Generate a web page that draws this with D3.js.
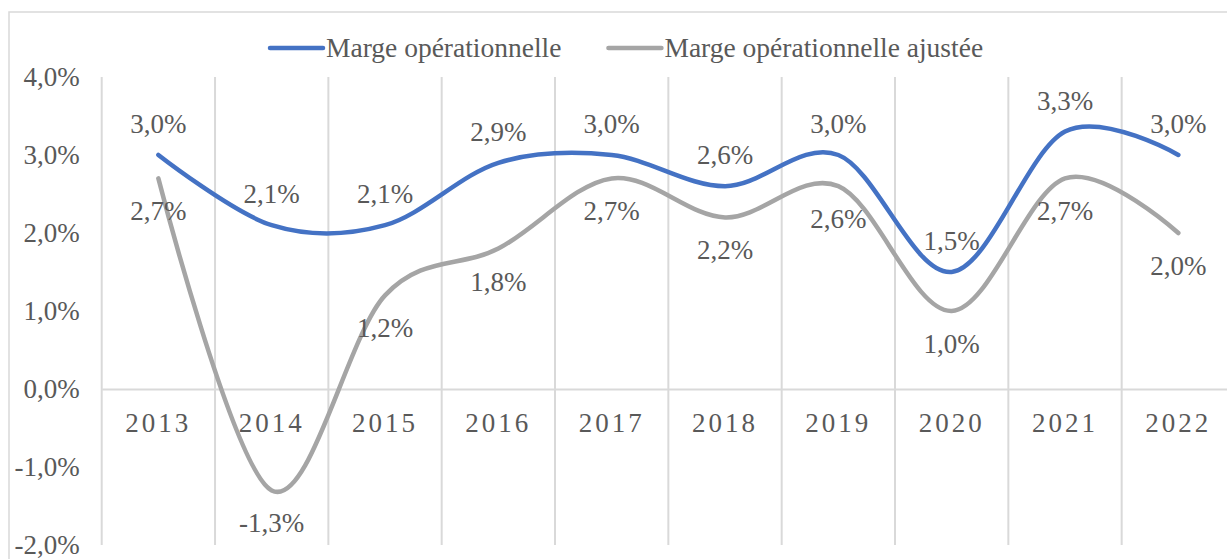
<!DOCTYPE html>
<html>
<head>
<meta charset="utf-8">
<script src="https://cdn.jsdelivr.net/npm/d3@7"></script>
<style>
  body { margin: 0; background: #fff; }
  text { font-family: 'Liberation Serif', 'Times New Roman', serif; fill: #595959; }
</style>
</head>
<body>
<div class="canvas"></div>
<script>
// data
const years = ['2013', '2014', '2015', '2016', '2017', '2018', '2019', '2020', '2021', '2022'];
const margeOp = [3.0, 2.1, 2.1, 2.9, 3.0, 2.6, 3.0, 1.5, 3.3, 3.0];
const margeAjustee = [2.7, -1.3, 1.2, 1.8, 2.7, 2.2, 2.6, 1.0, 2.7, 2.0];
const yTicks = [-2, -1, 0, 1, 2, 3, 4];
const seriesNames = ['Marge opérationnelle', 'Marge opérationnelle ajustée'];
const seriesColors = ['#4472C4', '#A5A5A5'];

const dims = {width: 1227, height: 559};
const plot = {left: 101.7, right: 1235, top: 77, bottom: 545};
const fontSize = 27;

const svg = d3.select('.canvas')
    .append('svg').attr('width', dims.width).attr('height', dims.height);

// outer frame (right/bottom fall outside the picture)
svg.append('rect')
    .attr('x', 9).attr('y', 12)
    .attr('width', 1260).attr('height', 600)
    .attr('fill', 'none').attr('stroke', '#d9d9d9').attr('stroke-width', 1.5);

const x = d3.scaleBand().domain(years).range([plot.left, plot.right]).padding(0);
const y = d3.scaleLinear().domain([-2, 4]).range([plot.bottom, plot.top]);

const fmt = v => d3.format('.1f')(v).replace('.', ',').replace('−', '-') + '%';

// vertical grid at category boundaries
const bounds = years.map(d => x(d)).concat([x(years[years.length - 1]) + x.bandwidth()]);
svg.append('g').selectAll('line')
    .data(bounds)
    .enter().append('line')
        .attr('x1', d => d).attr('x2', d => d)
        .attr('y1', plot.top).attr('y2', plot.bottom)
        .attr('stroke', '#d9d9d9').attr('stroke-width', 2);

// y axis labels
const yAxis = d3.axisLeft(y).tickValues(yTicks).tickFormat(fmt).tickSize(0).tickPadding(22);
const gy = svg.append('g').attr('transform', `translate(${plot.left},0)`).call(yAxis);
gy.select('.domain').remove();
gy.selectAll('text').attr('font-size', fontSize).style('font-family', null);

// category axis on the zero line
const xAxis = d3.axisBottom(x).tickSize(0).tickPadding(24);
const gx = svg.append('g').attr('transform', `translate(0,${y(0)})`).call(xAxis);
gx.select('.domain').attr('stroke', '#d9d9d9').attr('stroke-width', 2);
gx.selectAll('text').attr('font-size', fontSize).attr('letter-spacing', 3).style('font-family', null);

// smoothed lines, like the spreadsheet's smooth option
const line = d3.line()
    .x((d, i) => x(years[i]) + x.bandwidth() / 2)
    .y(d => y(d))
    .curve(d3.curveCardinal.tension(0));

const series = [margeOp, margeAjustee];
svg.append('g').selectAll('path')
    .data(series)
    .enter().append('path')
        .attr('d', d => line(d))
        .attr('fill', 'none')
        .attr('stroke', (d, i) => seriesColors[i])
        .attr('stroke-width', 4.5)
        .attr('stroke-linecap', 'round');

// data labels: first series above, second below
const labelOffset = [-22, 42];
series.forEach((vals, s) => {
    svg.append('g').selectAll('text')
        .data(vals)
        .enter().append('text')
            .attr('x', (d, i) => x(years[i]) + x.bandwidth() / 2)
            .attr('y', d => y(d) + labelOffset[s])
            .attr('text-anchor', 'middle')
            .attr('font-size', fontSize)
            .text(d => fmt(d));
});

// legend
const legend = svg.append('g').attr('transform', 'translate(270,48)');
let lx = 0;
seriesNames.forEach((name, i) => {
    const item = legend.append('g').attr('transform', `translate(${lx},0)`);
    item.append('line')
        .attr('x1', 0).attr('x2', 53).attr('y1', 0).attr('y2', 0)
        .attr('stroke', seriesColors[i]).attr('stroke-width', 4.5).attr('stroke-linecap', 'round');
    const t = item.append('text')
        .attr('x', 56).attr('y', 9)
        .attr('font-size', 27.5)
        .text(name);
    lx += 56 + t.node().getComputedTextLength() + 47;
});
</script>
</body>
</html>
